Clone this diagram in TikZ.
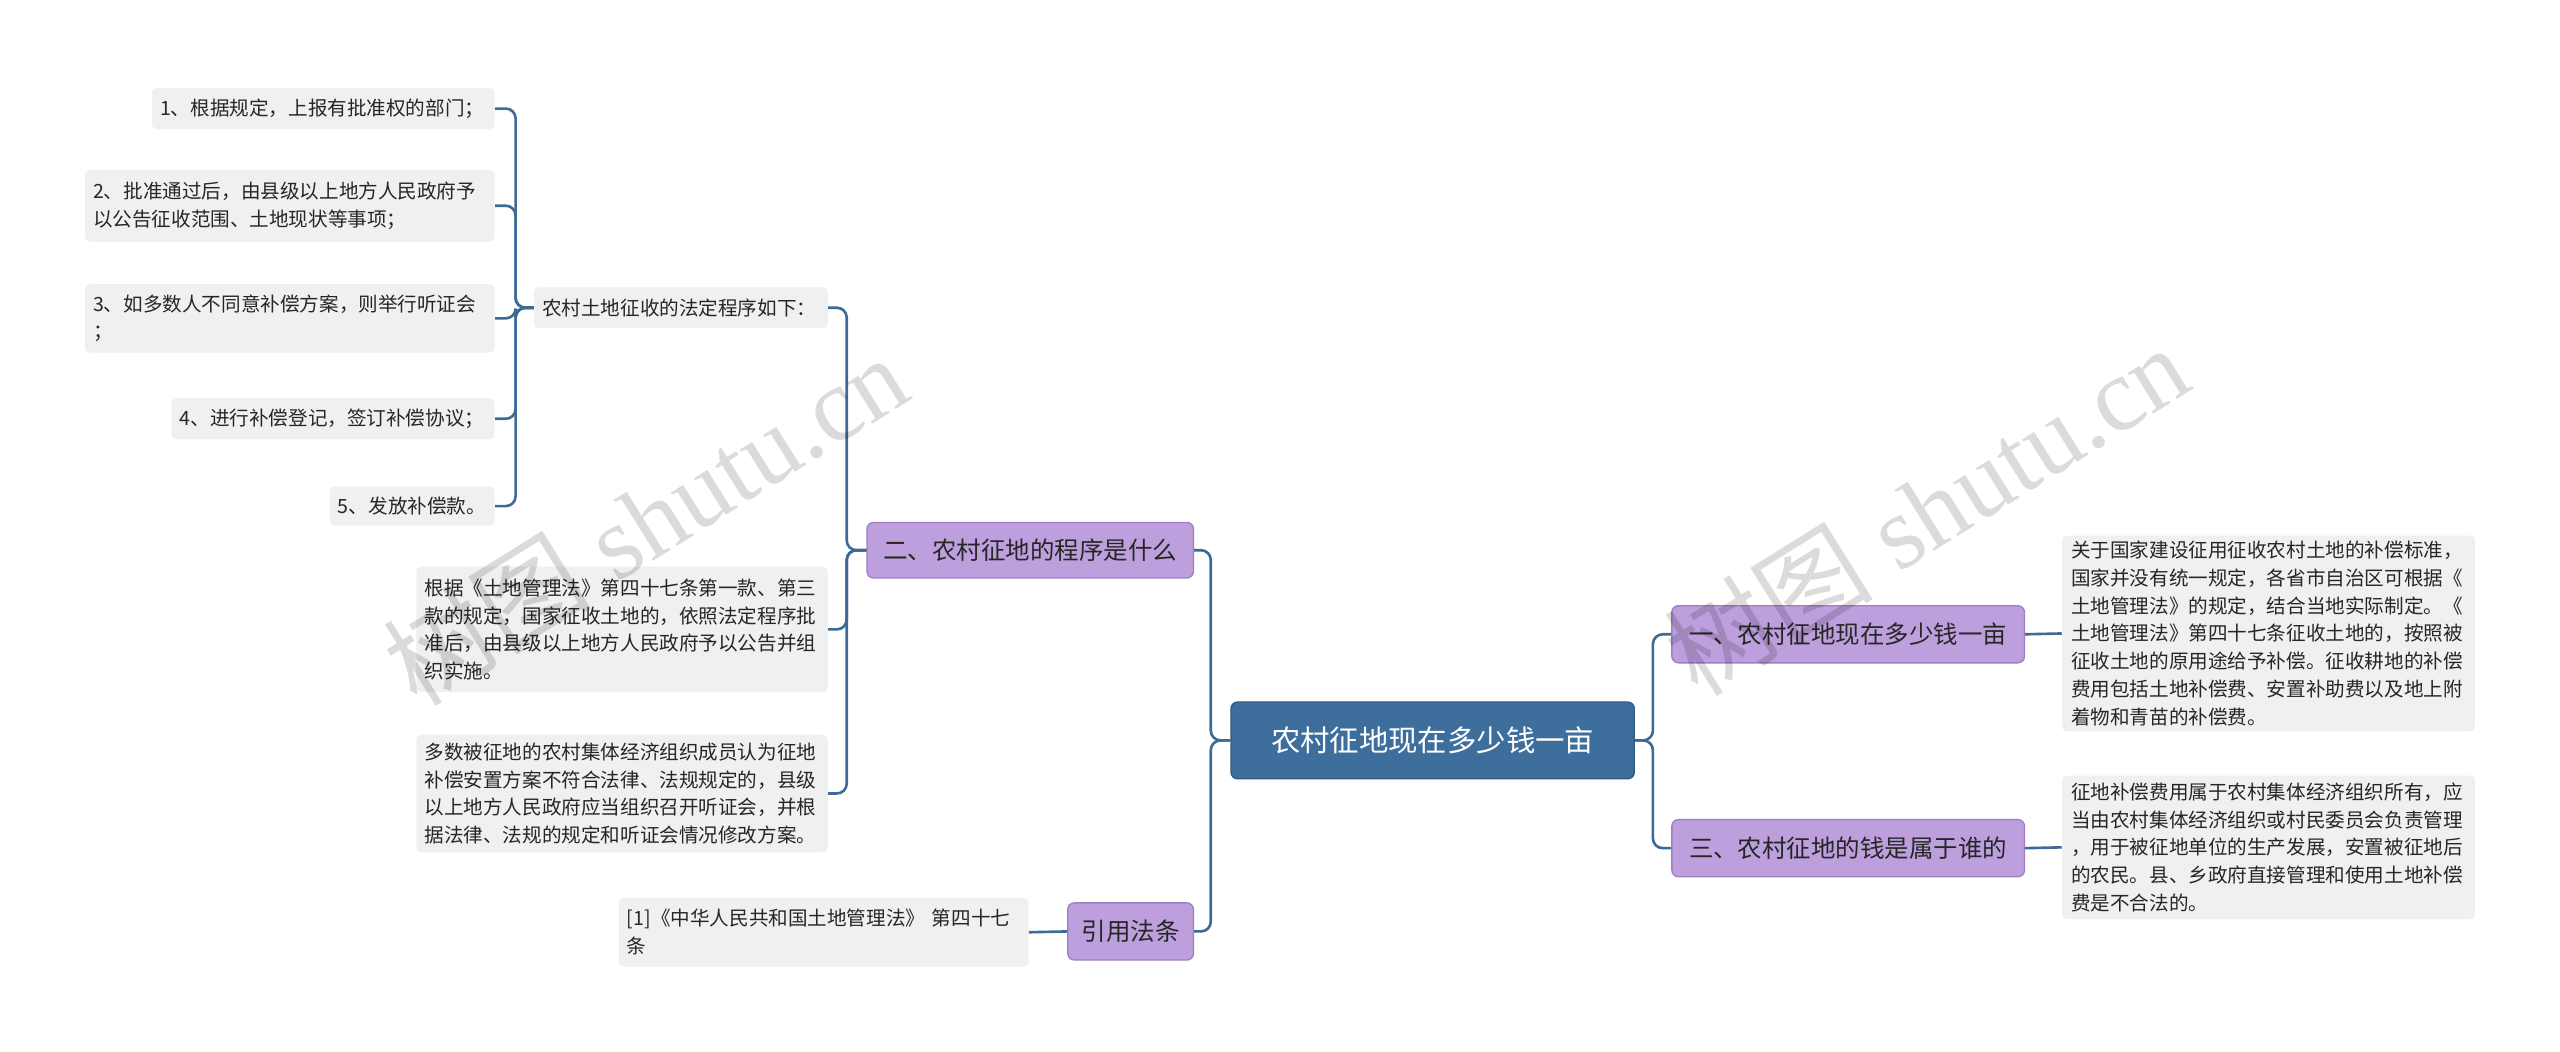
\documentclass[tikz,border=0pt]{standalone}
\usepackage{fontspec}
\setmainfont{Noto Sans CJK SC}
\newfontfamily\wmfont{Noto Sans CJK SC}
\newfontfamily\wmlat{Liberation Serif}
\begin{document}
\begin{tikzpicture}[x=1pt,y=-1pt,
  conn/.style={draw=linkc,line width=1.6pt,rounded corners=6pt},
  leaf/.style={fill=leafc,rounded corners=3pt,inner sep=0pt,font=\fontsize{12}{17}\selectfont,align=left,text=black!85},
  sub/.style={fill=subc,draw=subd,line width=0.8pt,rounded corners=4pt,inner sep=0pt,font=\fontsize{15}{18}\selectfont,text=black!85},
  rootn/.style={fill=rootc,draw=rootd,line width=0.8pt,rounded corners=4pt,inner sep=0pt,font=\fontsize{18}{22}\selectfont,text=white},
  wm/.style={text=black,text opacity=0.14,font=\fontsize{64}{64}\selectfont,rotate=32}]
\definecolor{linkc}{HTML}{3E6A96}
\definecolor{leafc}{HTML}{F0F0F0}
\definecolor{subc}{HTML}{BC9FDC}
\definecolor{subd}{HTML}{9D7FC4}
\definecolor{rootc}{HTML}{3D6E9C}
\definecolor{rootd}{HTML}{2E5A84}
\useasboundingbox[fill=white] (0,0) rectangle (1568,644);
% root
\node[rootn,minimum width=247pt,minimum height=47pt] (root) at (877.5,453.5) {农村征地现在多少钱一亩};
% right
\node[sub,minimum width=216pt,minimum height=35pt] (r1) at (1132,388.5) {一、农村征地现在多少钱一亩};
\node[sub,minimum width=216pt,minimum height=35pt] (r3) at (1132,519.5) {三、农村征地的钱是属于谁的};
\node[leaf,minimum width=253pt,minimum height=120pt,text width=242pt] (r1a) at (1389.5,388) {关于国家建设征用征收农村土地的补偿标准，\\国家并没有统一规定，各省市自治区可根据《\\土地管理法》的规定，结合当地实际制定。《\\土地管理法》第四十七条征收土地的，按照被\\征收土地的原用途给予补偿。征收耕地的补偿\\费用包括土地补偿费、安置补助费以及地上附\\着物和青苗的补偿费。};
\node[leaf,minimum width=253pt,minimum height=88pt,text width=242pt] (r3a) at (1389.5,519) {征地补偿费用属于农村集体经济组织所有，应\\当由农村集体经济组织或村民委员会负责管理\\，用于被征地单位的生产发展，安置被征地后\\的农民。县、乡政府直接管理和使用土地补偿\\费是不合法的。};
% left
\node[sub,minimum width=200pt,minimum height=34pt] (l2) at (631,337) {二、农村征地的程序是什么};
\node[sub,minimum width=77pt,minimum height=35pt] (l4) at (692.5,570.5) {引用法条};
\node[leaf,minimum width=180pt,minimum height=25pt,text width=170pt] (p0) at (417,188.5) {农村土地征收的法定程序如下：};
\node[leaf,minimum width=252pt,minimum height=77pt,text width=242pt] (p1) at (381,385.5) {根据《土地管理法》第四十七条第一款、第三\\款的规定，国家征收土地的，依照法定程序批\\准后，由县级以上地方人民政府予以公告并组\\织实施。};
\node[leaf,minimum width=252pt,minimum height=72pt,text width=242pt] (p2) at (381,486) {多数被征地的农村集体经济组织成员认为征地\\补偿安置方案不符合法律、法规规定的，县级\\以上地方人民政府应当组织召开听证会，并根\\据法律、法规的规定和听证会情况修改方案。};
\node[leaf,minimum width=251pt,minimum height=42pt,text width=241pt] (q1) at (504.5,571) {[1]《中华人民共和国土地管理法》 第四十七\\条};
\node[leaf,minimum width=210pt,minimum height=25pt,text width=200pt] (i1) at (198,66.5) {1、根据规定，上报有批准权的部门；};
\node[leaf,minimum width=251pt,minimum height=44pt,text width=241pt] (i2) at (177.5,126) {2、批准通过后，由县级以上地方人民政府予\\以公告征收范围、土地现状等事项；};
\node[leaf,minimum width=251pt,minimum height=42pt,text width=241pt] (i3) at (177.5,195) {3、如多数人不同意补偿方案，则举行听证会\\；};
\node[leaf,minimum width=198pt,minimum height=25pt,text width=188pt] (i4) at (204,256.5) {4、进行补偿登记，签订补偿协议；};
\node[leaf,minimum width=101pt,minimum height=24pt,text width=91pt] (i5) at (252.5,310) {5、发放补偿款。};
% connectors
\foreach \c in {r1,r3} \draw[conn] (root.east) -- ++(11,0) |- (\c.west);
\draw[conn] (r1.east) -- (r1a.west);
\draw[conn] (r3.east) -- (r3a.west);
\foreach \c in {l2,l4} \draw[conn] (root.west) -- ++(-12,0) |- (\c.east);
\foreach \c in {p0,p1,p2} \draw[conn] (l2.west) -- ++(-12,0) |- (\c.east);
\draw[conn] (l4.west) -- (q1.east);
\foreach \c in {i1,i2,i3,i4,i5} \draw[conn] (p0.west) -- ++(-11,0) |- (\c.east);
% watermarks
\node[wm] (w1) at (395,318) {\wmfont 树图\wmlat\ shutu.cn};
\node[wm] (w2) at (1180,312) {\wmfont 树图\wmlat\ shutu.cn};
\end{tikzpicture}
\end{document}
